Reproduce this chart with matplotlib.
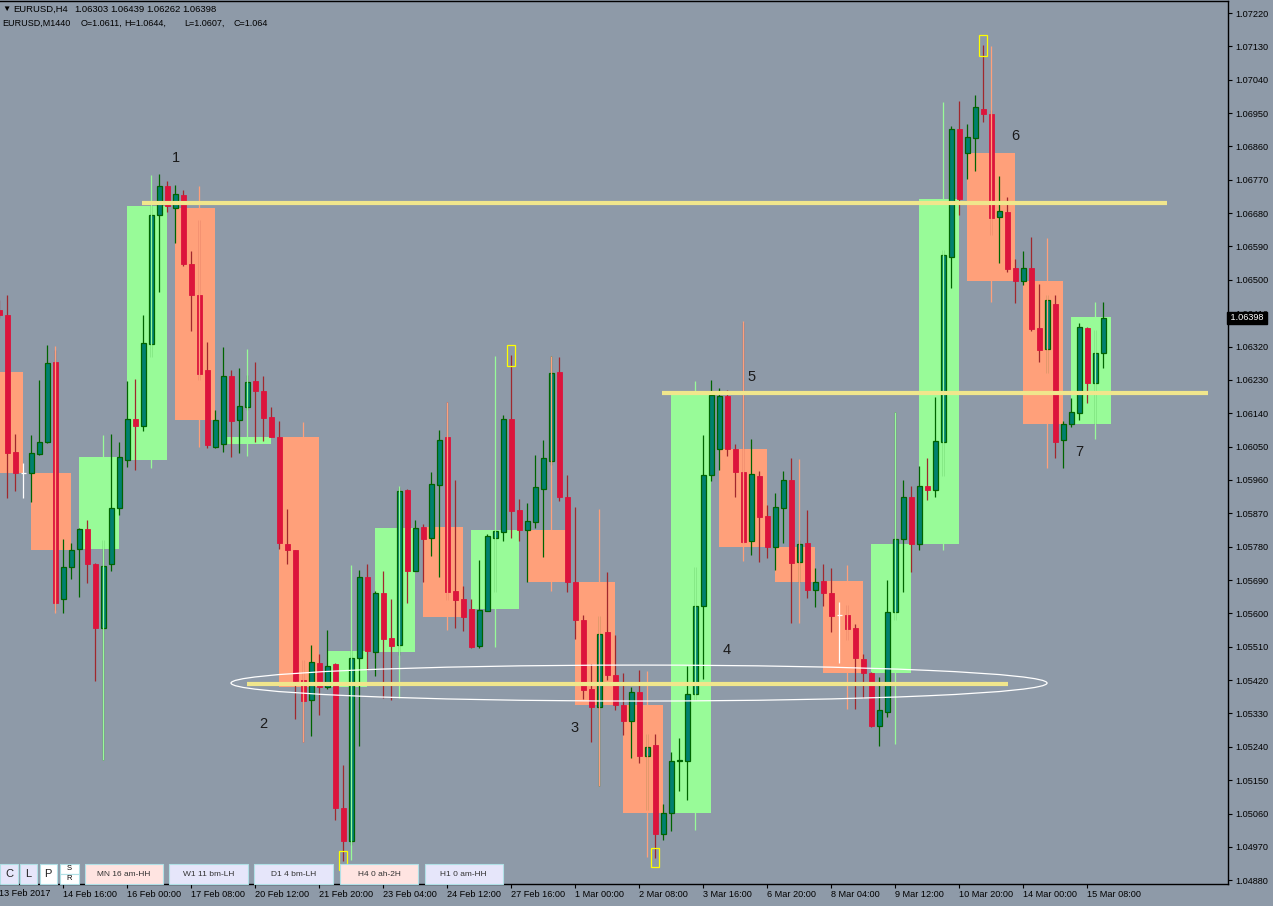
import numpy as np
import matplotlib.pyplot as plt
from matplotlib.patches import Rectangle, Ellipse
from matplotlib.transforms import blended_transform_factory

plt.rcParams['font.family'] = ['Liberation Sans', 'DejaVu Sans']

# EURUSD H4 bars, index -1 .. 137 (bar 137 = last, still forming)
bar_open = [
    1.06419, 1.06405, 1.06035, 1.05979, 1.05979, 1.06030, 1.06062, 1.06278, 1.05639, 1.05725,
    1.05774, 1.05828, 1.05733, 1.05561, 1.05733, 1.05884, 1.06014, 1.06125, 1.06106, 1.06327,
    1.06675, 1.06753, 1.06694, 1.06729, 1.06543, 1.06459, 1.06257, 1.06049, 1.06057, 1.06240,
    1.06122, 1.06157, 1.06227, 1.06200, 1.06130, 1.06076, 1.05787, 1.05771, 1.05420, 1.05366,
    1.05466, 1.05401, 1.05463, 1.05075, 1.04986, 1.05480, 1.05698, 1.05496, 1.05655, 1.05534,
    1.05515, 1.05933, 1.05714, 1.05833, 1.05803, 1.05946, 1.06076, 1.05660, 1.05639, 1.05612,
    1.05512, 1.05606, 1.05803, 1.05820, 1.06125, 1.05879, 1.05825, 1.05847, 1.05936, 1.06011,
    1.06250, 1.05913, 1.05685, 1.05582, 1.05396, 1.05347, 1.05550, 1.05434, 1.05353, 1.05310,
    1.05388, 1.05215, 1.05245, 1.05005, 1.05061, 1.05202, 1.05202, 1.05382, 1.05620, 1.05973,
    1.06044, 1.06187, 1.06044, 1.05982, 1.05795, 1.05971, 1.05863, 1.05779, 1.05884, 1.05960,
    1.05739, 1.05790, 1.05663, 1.05687, 1.05655, 1.05596, 1.05596, 1.05561, 1.05477, 1.05439,
    1.05296, 1.05334, 1.05604, 1.05801, 1.05914, 1.05787, 1.05944, 1.05933, 1.06062, 1.06562,
    1.06907, 1.06842, 1.06883, 1.06961, 1.06948, 1.06670, 1.06683, 1.06532, 1.06497, 1.06532,
    1.06370, 1.06313, 1.06435, 1.06068, 1.06111, 1.06141, 1.06370, 1.06222, 1.06303]
bar_high = [
    1.06446, 1.06459, 1.06084, 1.06006, 1.06081, 1.06230, 1.06324, 1.06311, 1.05801, 1.05790,
    1.05830, 1.05852, 1.05736, 1.05798, 1.06084, 1.06062, 1.06227, 1.06232, 1.06405, 1.06702,
    1.06786, 1.06767, 1.06756, 1.06742, 1.06578, 1.06662, 1.06332, 1.06149, 1.06319, 1.06257,
    1.06262, 1.06243, 1.06278, 1.06240, 1.06157, 1.06119, 1.05882, 1.05771, 1.05474, 1.05515,
    1.05490, 1.05555, 1.05466, 1.05191, 1.05501, 1.05717, 1.05733, 1.05660, 1.05714, 1.05639,
    1.05941, 1.05936, 1.05852, 1.05841, 1.05982, 1.06095, 1.06170, 1.05960, 1.05674, 1.05639,
    1.05744, 1.05814, 1.05825, 1.06135, 1.06297, 1.05909, 1.05898, 1.06027, 1.06068, 1.06295,
    1.06292, 1.05973, 1.05887, 1.05596, 1.05463, 1.05593, 1.05712, 1.05542, 1.05439, 1.05401,
    1.05447, 1.05275, 1.05275, 1.05086, 1.05226, 1.05264, 1.05458, 1.05725, 1.06081, 1.06230,
    1.06208, 1.06203, 1.06057, 1.06386, 1.06071, 1.05984, 1.05892, 1.05925, 1.05984, 1.06019,
    1.05798, 1.05879, 1.05722, 1.05733, 1.05722, 1.05631, 1.05623, 1.05571, 1.05490, 1.05442,
    1.05428, 1.05690, 1.06143, 1.05960, 1.05944, 1.05998, 1.06019, 1.06184, 1.06581, 1.06915,
    1.06983, 1.06921, 1.06999, 1.07134, 1.06958, 1.06780, 1.06724, 1.06556, 1.06578, 1.06616,
    1.06489, 1.06459, 1.06459, 1.06119, 1.06181, 1.06384, 1.06373, 1.06365, 1.06439]
bar_low = [
    1.06397, 1.05911, 1.05930, 1.05911, 1.05900, 1.06027, 1.06060, 1.05609, 1.05601, 1.05693,
    1.05644, 1.05682, 1.05418, 1.05204, 1.05714, 1.05865, 1.05995, 1.05987, 1.06092, 1.06292,
    1.06467, 1.06683, 1.06599, 1.06537, 1.06362, 1.06230, 1.06046, 1.06046, 1.06035, 1.06022,
    1.06033, 1.06149, 1.06062, 1.06065, 1.06076, 1.05774, 1.05733, 1.05315, 1.05252, 1.05269,
    1.05326, 1.05396, 1.05042, 1.04932, 1.04975, 1.05242, 1.05447, 1.05431, 1.05372, 1.05366,
    1.05488, 1.05628, 1.05714, 1.05685, 1.05755, 1.05698, 1.05636, 1.05561, 1.05553, 1.05507,
    1.05507, 1.05606, 1.05658, 1.05795, 1.05803, 1.05795, 1.05685, 1.05830, 1.05752, 1.06000,
    1.05903, 1.05658, 1.05531, 1.05369, 1.05253, 1.05134, 1.05420, 1.05339, 1.05272, 1.05210,
    1.05196, 1.05070, 1.04940, 1.04989, 1.05013, 1.05121, 1.05096, 1.05366, 1.05423, 1.05957,
    1.05987, 1.06025, 1.05914, 1.05790, 1.05758, 1.05739, 1.05749, 1.05717, 1.05790, 1.05574,
    1.05685, 1.05642, 1.05617, 1.05620, 1.05550, 1.05466, 1.05528, 1.05342, 1.05372, 1.05293,
    1.05242, 1.05320, 1.05582, 1.05658, 1.05712, 1.05771, 1.05906, 1.05914, 1.05971, 1.06478,
    1.06675, 1.06772, 1.06794, 1.06926, 1.06621, 1.06545, 1.06521, 1.06438, 1.06486, 1.06362,
    1.06278, 1.06249, 1.06019, 1.05992, 1.06103, 1.06122, 1.06168, 1.06111, 1.06262]
bar_close = [
    1.06405, 1.06033, 1.05979, 1.05979, 1.06033, 1.06062, 1.06276, 1.05628, 1.05725, 1.05771,
    1.05828, 1.05733, 1.05561, 1.05728, 1.05884, 1.06022, 1.06125, 1.06106, 1.06330, 1.06675,
    1.06753, 1.06699, 1.06732, 1.06543, 1.06459, 1.06246, 1.06054, 1.06122, 1.06240, 1.06119,
    1.06160, 1.06224, 1.06200, 1.06127, 1.06076, 1.05790, 1.05771, 1.05418, 1.05364, 1.05469,
    1.05401, 1.05458, 1.05075, 1.04986, 1.05480, 1.05698, 1.05499, 1.05655, 1.05531, 1.05512,
    1.05930, 1.05714, 1.05830, 1.05801, 1.05949, 1.06068, 1.05658, 1.05636, 1.05590, 1.05509,
    1.05609, 1.05809, 1.05822, 1.06125, 1.05876, 1.05825, 1.05849, 1.05941, 1.06019, 1.06249,
    1.05913, 1.05685, 1.05582, 1.05393, 1.05347, 1.05544, 1.05434, 1.05353, 1.05310, 1.05388,
    1.05215, 1.05239, 1.05005, 1.05061, 1.05202, 1.05204, 1.05382, 1.05620, 1.05973, 1.06189,
    1.06187, 1.06044, 1.05982, 1.05793, 1.05976, 1.05860, 1.05779, 1.05887, 1.05960, 1.05736,
    1.05787, 1.05663, 1.05685, 1.05655, 1.05593, 1.05596, 1.05558, 1.05480, 1.05439, 1.05296,
    1.05339, 1.05604, 1.05801, 1.05914, 1.05787, 1.05944, 1.05933, 1.06065, 1.06567, 1.06907,
    1.06718, 1.06885, 1.06966, 1.06948, 1.06667, 1.06686, 1.06529, 1.06497, 1.06532, 1.06367,
    1.06311, 1.06446, 1.06062, 1.06111, 1.06143, 1.06373, 1.06222, 1.06303, 1.06398]

# daily candles drawn as boxes over their H4 bars
day_first = [-3, 3, 9, 15, 21, 27, 34, 40, 46, 52, 58, 65, 71, 77, 83, 89, 96, 102, 108, 114, 120, 127, 133]
day_last = [2, 8, 14, 20, 26, 33, 39, 45, 51, 57, 64, 70, 76, 82, 88, 95, 101, 107, 113, 119, 126, 132, 138]
day_open = [1.06251, 1.05979, 1.05774, 1.06014, 1.06694, 1.06057, 1.06076, 1.05401, 1.05496, 1.05833,
            1.05612, 1.05825, 1.05685, 1.05353, 1.05061, 1.06044, 1.05779, 1.05687, 1.05439, 1.05787,
            1.06842, 1.06497, 1.0611]
day_high = [np.nan, 1.06322, 1.06081, 1.06783, 1.06753, 1.06314, 1.06116, 1.05731, 1.05944, 1.06170,
            1.06295, 1.06295, 1.05882, 1.05445, 1.06227, 1.06389, 1.06017, 1.05731, 1.06143, 1.06981,
            1.07131, 1.06613, 1.0644]
day_low = [np.nan, 1.05601, 1.05204, 1.05991, 1.06050, 1.06026, 1.05252, 1.04934, 1.05372, 1.05556,
           1.05509, 1.05660, 1.05134, 1.04943, 1.05016, 1.05742, 1.05574, 1.05342, 1.05248, 1.05771,
           1.06441, 1.05993, 1.0607]
day_close = [1.05979, 1.05771, 1.06022, 1.06699, 1.06122, 1.06076, 1.05401, 1.05499, 1.05830, 1.05590,
             1.05825, 1.05685, 1.05353, 1.05061, 1.06189, 1.05779, 1.05685, 1.05439, 1.05787, 1.06718,
             1.06497, 1.06111, 1.0640]

time_ticks = [7, 15, 23, 31, 39, 47, 55, 63, 71, 79, 87, 95, 103, 111, 119, 127, 135]
time_labels = ['14 Feb 16:00', '16 Feb 00:00', '17 Feb 08:00', '20 Feb 12:00', '21 Feb 20:00',
               '23 Feb 04:00', '24 Feb 12:00', '27 Feb 16:00', '1 Mar 00:00', '2 Mar 08:00',
               '3 Mar 16:00', '6 Mar 20:00', '8 Mar 04:00', '9 Mar 12:00', '10 Mar 20:00',
               '14 Mar 00:00', '15 Mar 08:00']

# horizontal levels drawn by hand on the chart
level_price = [1.06707, 1.06195, 1.05409]
level_from = [16.8, 81.8, 30.0]
level_to = [145.0, 150.1, 125.1]

wave_text = ['1', '2', '3', '4', '5', '6', '7']
wave_x = [21.1, 31.96, 70.96, 89.96, 92.96, 125.96, 133.96]
wave_y = [1.06829, 1.05302, 1.05291, 1.05501, 1.06238, 1.06888, 1.06035]

mark_idx = [42, 63, 81, 122]
mark_top = [1.04959, 1.06324, 1.04968, 1.07161]
mark_bot = [1.04908, 1.06268, 1.04916, 1.07104]

bg = '#8E9AA8'
bull_fill, bull_line = '#008070', '#006400'
bear_fill, bear_line = '#DC143C', '#A0282D'
day_up, day_dn = '#98FB98', '#FFA07A'

W, H = 1273, 906
fig = plt.figure(figsize=(W / 100, H / 100), dpi=100, facecolor=bg)
ax = fig.add_axes([0, 22 / H, 1228 / W, 883 / H], facecolor=bg)

def fx(x):
    return x / W

def fy(y):
    return 1 - y / H

idx = np.arange(-1, 138)
o = np.array(bar_open)
hi = np.array(bar_high)
lo = np.array(bar_low)
c = np.array(bar_close)
up = c > o
dn = c < o
dj = c == o

# daily boxes
for i in range(len(day_first)):
    col = day_up if day_close[i] > day_open[i] else day_dn
    ax.bar(day_first[i], abs(day_close[i] - day_open[i]), bottom=min(day_open[i], day_close[i]),
           width=day_last[i] - day_first[i], align='edge', color=col, linewidth=0, zorder=1)

# H4 candles
ax.vlines(idx[up], lo[up], hi[up], color=bull_line, linewidth=0.9, zorder=2)
ax.vlines(idx[dn], lo[dn], hi[dn], color=bear_line, linewidth=0.9, zorder=2)
ax.vlines(idx[dj], lo[dj], hi[dj], color='white', linewidth=0.9, zorder=2)
ax.bar(idx[up], c[up] - o[up], bottom=o[up], width=0.6, color=bull_fill,
       edgecolor=bull_line, linewidth=0.9, zorder=3)
ax.bar(idx[dn], o[dn] - c[dn], bottom=c[dn], width=0.6, color=bear_fill,
       edgecolor=bear_fill, linewidth=0.6, zorder=3)
ax.hlines(o[dj], idx[dj] - 0.3, idx[dj] + 0.3, color='white', linewidth=0.9, zorder=3)

# daily wicks on top of the H4 candles
for i in range(len(day_first)):
    col = day_up if day_close[i] > day_open[i] else day_dn
    ax.vlines(day_first[i] + 3, day_low[i], day_high[i], color=col, linewidth=0.9, zorder=4)

for p, a, b in zip(level_price, level_from, level_to):
    ax.hlines(p, a, b, color='#F0E68C', linewidth=3.0, zorder=5)

ax.add_patch(Ellipse((78.96, 1.05412), 102, 0.00097, fill=False, edgecolor='white',
                     linewidth=0.9, zorder=5))

for k, t, b in zip(mark_idx, mark_top, mark_bot):
    ax.add_patch(Rectangle((k - 0.55, b), 0.95, t - b, fill=False, edgecolor='#FFFF00',
                           linewidth=0.9, zorder=5))

for s, x, y in zip(wave_text, wave_x, wave_y):
    ax.text(x, y, s, fontsize=10.5, color='#1a1a1a', ha='center', va='center', zorder=6)

ax.set_xlim(-0.916, 152.58)
ax.set_ylim(1.048698, 1.072524)

# axes frame like the terminal
ax.spines['left'].set_visible(False)
for side in ['top', 'right', 'bottom']:
    ax.spines[side].set_color('black')
    ax.spines[side].set_linewidth(1.0)

ax.yaxis.tick_right()
price_ticks = np.arange(1.0488, 1.07221, 0.0009)
ax.set_yticks(price_ticks)
ax.set_yticklabels(['%.5f' % v for v in price_ticks])
ax.tick_params(axis='y', direction='out', length=3, width=0.8, pad=2, labelsize=6.6, colors='black')
ax.set_xticks(time_ticks)
ax.set_xticklabels(time_labels)
ax.tick_params(axis='x', direction='out', length=3, width=0.8, pad=1.5, labelsize=6.6, colors='black')
for t in ax.get_xticklabels():
    t.set_horizontalalignment('left')
fig.text(fx(-1), fy(893), '13 Feb 2017', fontsize=6.6, ha='left', va='center')

# current price tag (covers the 1.06410 label, as in the terminal)
tr = blended_transform_factory(ax.transAxes, ax.transData)
ax.text(1.0, bar_close[-1], ' %.5f ' % bar_close[-1], transform=tr, fontsize=6.6, color='white',
        ha='left', va='center', zorder=10, clip_on=False,
        bbox=dict(boxstyle='square,pad=0.15', facecolor='black', edgecolor='black'))

# header lines
fig.text(fx(2.5), fy(9), '▼', fontsize=6, ha='left', va='center')
head1 = [(13, 'EURUSD,H4'), (74, '1.06303'), (110.7, '1.06439'), (146.7, '1.06262'), (182.7, '1.06398')]
for x, s in head1:
    fig.text(fx(x), fy(9), s, fontsize=6.8, ha='left', va='center')
head2 = [(2.7, 'EURUSD,M1440'), (81, 'O=1.0611,'), (124, 'H=1.0644,'), (184, 'L=1.0607,'), (233, 'C=1.064')]
for x, s in head2:
    fig.text(fx(x), fy(23), s, fontsize=6.5, ha='left', va='center')

# buttons at the bottom left
buttons = [('C', 0, 18, '#E6E6FA', 8), ('L', 19.5, 37, '#E6E6FA', 8), ('P', 39.5, 57, '#FFFFFF', 8),
           ('MN 16 am-HH', 84.5, 163, '#FFE4E1', 6), ('W1 11 bm-LH', 169, 248, '#E6E6FA', 6),
           ('D1 4 bm-LH', 254, 333, '#E6E6FA', 6), ('H4 0 ah-2H', 340, 418, '#FFE4E1', 6),
           ('H1 0 am-HH', 424.5, 503, '#E6E6FA', 6)]
for s, x0, x1, col, fs in buttons:
    fig.add_artist(Rectangle((fx(x0), fy(884)), fx(x1 - x0), 20 / H, transform=fig.transFigure,
                             facecolor=col, edgecolor='#B0E0E6', linewidth=0.8, zorder=20))
    fig.text(fx((x0 + x1) / 2), fy(874), s, fontsize=fs, ha='center', va='center',
             color='#222222' if fs > 6 else '#333333', zorder=21)
for s, y0 in [('S', 864), ('R', 874)]:
    fig.add_artist(Rectangle((fx(59.5), fy(y0 + 10)), fx(19), 10 / H, transform=fig.transFigure,
                             facecolor='white', edgecolor='#B0E0E6', linewidth=0.8, zorder=20))
    fig.text(fx(69), fy(y0 + 5), s, fontsize=5.5, ha='center', va='center', zorder=21)

fig.savefig('out.png', dpi=100, facecolor=bg)
